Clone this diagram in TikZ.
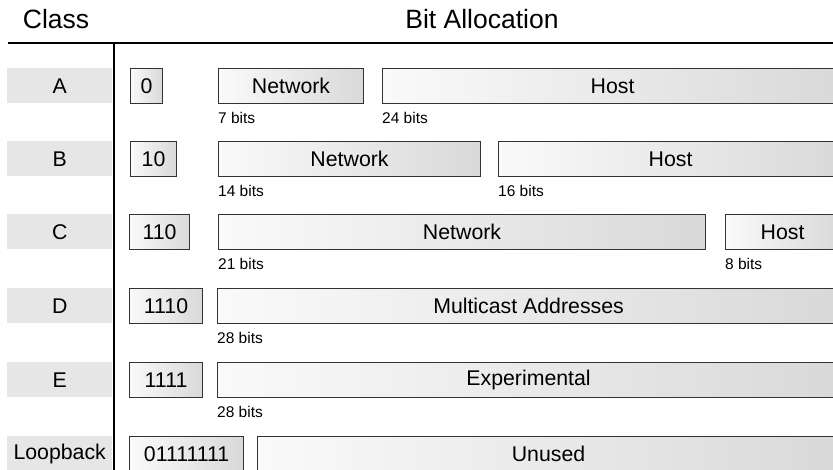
\documentclass[tikz,border=0pt]{standalone}
\usepackage{fontspec}
\setmainfont{Liberation Sans}
\usepackage{xcolor}
\usetikzlibrary{positioning}

\definecolor{edge}{HTML}{333333}
\definecolor{clsgray}{HTML}{E6E6E6}

\begin{document}
\begin{tikzpicture}[
    x=1pt, y=-1pt,
    font=\fontsize{21.3}{25}\selectfont,
    head/.style={font=\fontsize{26.5}{31}\selectfont, anchor=base, inner sep=0pt},
    cls/.style={fill=clsgray, minimum width=105pt, minimum height=35pt,
                anchor=north west, inner sep=0pt},
    field/.style={draw=edge, line width=1.1pt, left color=black!2,
                  right color=black!15, minimum height=35pt,
                  anchor=north west, inner sep=0pt},
    bits/.style={font=\fontsize{15.5}{18}\selectfont, anchor=north west,
                 inner sep=0pt, yshift=-8pt}
  ]
  \useasboundingbox (0,0) rectangle (833,470);
  \clip (0,0) rectangle (833,470);

  % --- Cabecera ---
  \node[head] (hclass) at (56,29) {Class};
  \node[head] (hbits) at (482,29) {Bit Allocation};
  \draw[line width=1.6pt] (8,43) -- (840,43);
  \draw[line width=1.3pt] (114,43) -- (114,475);

  % --- Clases ---
  \foreach \c/\y in {A/68, B/141, C/214, D/288, E/362, Loopback/436}
    \node[cls] (cls\c) at (7,\y) {\c};

  % --- Clase A ---
  \node[field, minimum width=32pt] (preA) at (130,68) {0};
  \node[field, minimum width=145pt] (netA) at (218,68) {Network};
  \node[field, minimum width=460pt] (hostA) at (382,68) {Host};
  \node[bits] (bnA) at (netA.south west) {7 bits};
  \node[bits] (bhA) at (hostA.south west) {24 bits};

  % --- Clase B ---
  \node[field, minimum width=46pt] (preB) at (130,141) {10};
  \node[field, minimum width=262pt] (netB) at (218,141) {Network};
  \node[field, minimum width=344pt] (hostB) at (498,141) {Host};
  \node[bits] (bnB) at (netB.south west) {14 bits};
  \node[bits] (bhB) at (hostB.south west) {16 bits};

  % --- Clase C ---
  \node[field, minimum width=60pt] (preC) at (129,214) {110};
  \node[field, minimum width=487pt] (netC) at (218,214) {Network};
  \node[field, minimum width=114pt] (hostC) at (725,214) {Host};
  \node[bits] (bnC) at (netC.south west) {21 bits};
  \node[bits] (bhC) at (hostC.south west) {8 bits};

  % --- Clase D ---
  \node[field, minimum width=73pt] (preD) at (129,288) {1110};
  \node[field, minimum width=622pt] (multD) at (217,288) {Multicast Addresses};
  \node[bits] (bmD) at (multD.south west) {28 bits};

  % --- Clase E ---
  \node[field, minimum width=73pt] (preE) at (129,362) {1111};
  \node[field, minimum width=622pt] (expE) at (217,362) {Experimental};
  \node[bits] (beE) at (expE.south west) {28 bits};

  % --- Loopback ---
  \node[field, minimum width=114pt] (preL) at (129,436) {01111111};
  \node[field, minimum width=582pt] (unL) at (257,436) {Unused};

\end{tikzpicture}
\end{document}
